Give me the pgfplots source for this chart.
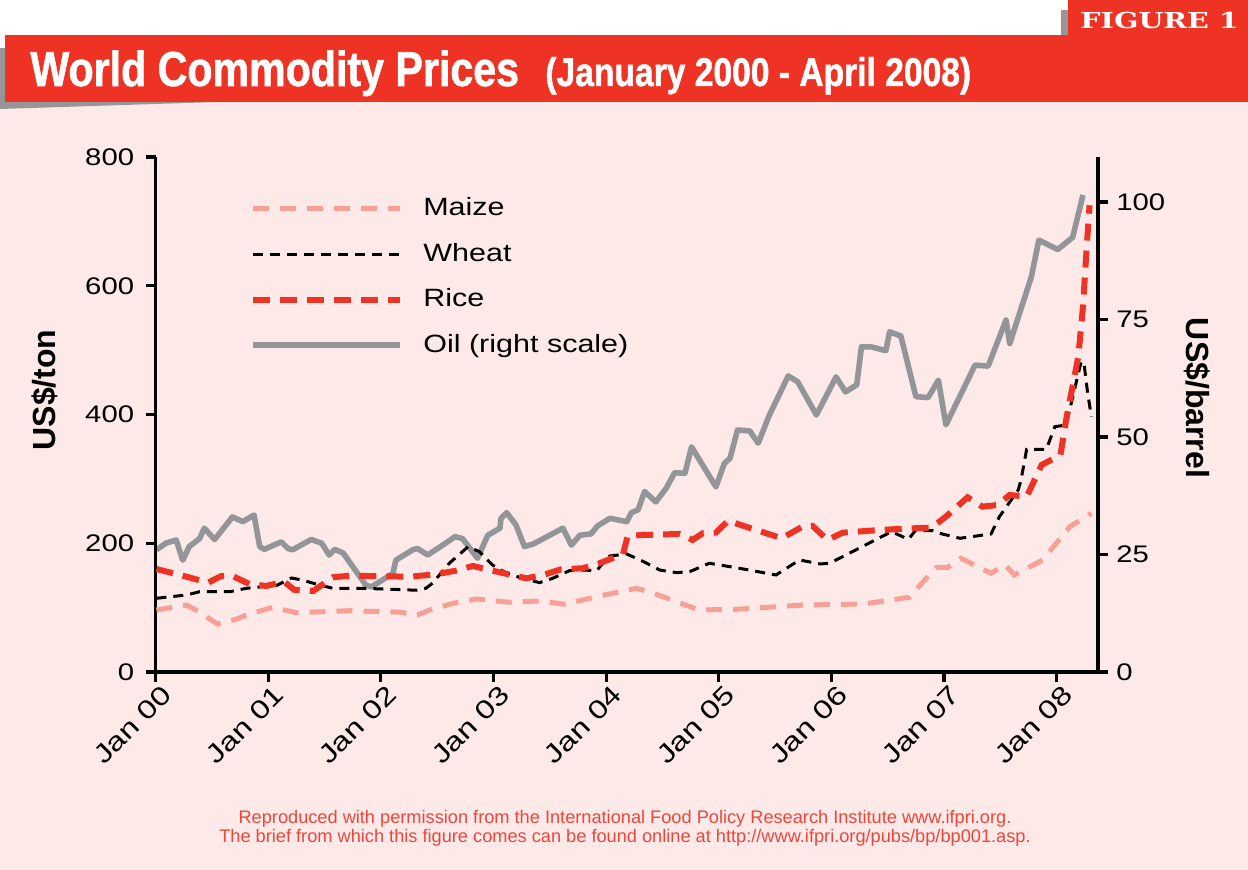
\documentclass[border=0pt]{standalone}
\usepackage{fontspec}
\usepackage{graphicx}
\setmainfont{Liberation Sans}
\newfontfamily\widefont[FakeStretch=1.22]{Liberation Sans}
\newfontfamily\titlefont[FakeStretch=0.84,FakeBold=1.2]{Liberation Sans}
\newfontfamily\figfont[FakeStretch=1.3]{DejaVu Serif}
\usepackage{pgfplots}
\pgfplotsset{compat=1.18}
\newcommand{\xl}[1]{\scalebox{1.25}[1]{#1}}
\definecolor{bannerred}{RGB}{238,50,36}
\definecolor{bgpink}{RGB}{253,234,232}
\definecolor{oilgray}{RGB}{147,149,152}
\definecolor{maizepink}{RGB}{246,160,152}
\definecolor{ricered}{RGB}{238,50,36}
\definecolor{footred}{RGB}{236,70,60}
\definecolor{shadowgray}{RGB}{150,150,152}
\begin{document}
\begin{tikzpicture}[x=0.5pt,y=0.5pt]
\useasboundingbox (0,0) rectangle (1248,870);
\fill[white] (0,0) rectangle (1248,870);
\fill[bgpink] (0,0) rectangle (1248,768);
\fill[shadowgray] (0,770) -- (280,770) -- (0,761) -- cycle;
\fill[shadowgray] (0,768) rectangle (6,822);
\fill[bannerred] (5,768) rectangle (1248,835);
\fill[shadowgray] (1061,835) rectangle (1069,860);
\fill[bannerred] (1068,835) rectangle (1248,870);
\node[anchor=base west, white, inner sep=0pt] at (30,784) {\titlefont\bfseries\fontsize{24.5}{28}\selectfont World Commodity Prices};
\node[anchor=base west, white, inner sep=0pt] at (545,784) {\titlefont\bfseries\fontsize{20}{24}\selectfont (January 2000 - April 2008)};
\node[anchor=base west, white, inner sep=0pt] at (1080,841) {\figfont\bfseries\fontsize{11}{13}\selectfont FIGURE 1};

% right axis: oil
\begin{axis}[at={(77.75pt,99pt)}, anchor=south west, scale only axis,
  width=471.25pt, height=257.5pt,
  xmin=0, xmax=100.4, ymin=0, ymax=109.6,
  axis x line=none, axis y line=right,
  axis line style={-, line width=1.6pt, black},
  ytick={0,25,50,75,100},
  tick align=outside, major tick length=5pt,
  tick style={black, line width=1.6pt},
  yticklabel style={font=\widefont\fontsize{12}{14}\selectfont, /pgf/number format/assume math mode=true, inner sep=0pt, anchor=west, xshift=4pt},
  clip=false]
\addplot[oilgray, line width=2.8pt, line join=round] coordinates {
(0.1,26.0) (1.1,27.4) (2.2,28.1) (2.9,23.8) (3.6,26.7) (4.7,28.4) (5.2,30.6) (6.3,28.2)
(8.2,33.0) (9.3,32.0) (10.5,33.4) (11.1,26.7) (11.6,26.1) (13.4,27.7) (14.1,26.3) (14.6,26.0)
(16.6,28.2) (17.7,27.4) (18.5,24.9) (19.1,26.1) (20.0,25.3) (22.4,18.5) (23.0,18.1) (25.3,21.0)
(25.6,23.8) (27.4,26.0) (27.9,26.3) (29.0,24.9) (30.6,27.0) (31.9,28.8) (32.7,28.4) (34.3,24.2)
(35.4,29.1) (36.7,30.6) (36.8,32.7) (37.4,33.9) (38.4,31.3) (39.3,26.7) (40.2,27.2) (43.4,30.6)
(44.3,27.0) (45.2,29.1) (46.4,29.4) (47.1,31.1) (48.4,32.7) (50.2,32.0) (50.7,33.9) (51.4,34.5)
(52.1,38.4) (53.3,36.2) (54.4,39.1) (55.3,42.4) (56.4,42.3) (57.1,47.9) (59.7,39.4) (60.6,44.4)
(61.2,45.5) (62.0,51.5) (63.3,51.3) (64.2,48.7) (65.4,54.7) (67.4,63.0) (68.4,61.8) (70.4,54.7)
(72.5,62.8) (73.5,59.6) (74.7,61.1) (75.2,69.2) (76.2,69.2) (77.8,68.4) (78.2,72.4) (79.4,71.5)
(81.0,58.6) (82.3,58.4) (83.4,62.1) (84.2,52.6) (87.3,65.3) (88.7,65.1) (90.6,74.9) (91.0,69.9)
(93.3,84.1) (94.1,91.9) (96.1,89.9) (97.7,92.5) (98.8,101.5)};
\end{axis}

% left axis: food
\begin{axis}[at={(77.75pt,99pt)}, anchor=south west, scale only axis,
  width=471.25pt, height=257.5pt,
  xmin=0, xmax=100.4, ymin=0, ymax=800,
  axis x line=bottom, axis y line=left,
  axis line style={-, line width=1.6pt, black},
  xtick={0,12,24,36,48,60,72,84,96},
  xticklabels={\xl{Jan 00},\xl{Jan 01},\xl{Jan 02},\xl{Jan 03},\xl{Jan 04},\xl{Jan 05},\xl{Jan 06},\xl{Jan 07},\xl{Jan 08}},
  ytick={0,200,400,600,800},
  tick align=outside, major tick length=5pt,
  tick style={black, line width=1.6pt},
  yticklabel style={font=\widefont\fontsize{12}{14}\selectfont, /pgf/number format/assume math mode=true, inner sep=0pt, anchor=east, xshift=-5.5pt},
  xticklabel style={font=\fontsize{13}{15}\selectfont, rotate=45, anchor=east, inner sep=0pt, xshift=1.2pt, yshift=-7pt},
  legend style={at={(0.1002,0.926)}, anchor=north west, draw=none, fill=none, inner sep=0pt,
    font=\widefont\fontsize{12.5}{15}\selectfont, row sep=9.75pt,
    nodes={inner sep=0pt, text height=10pt, text depth=3pt},
    /tikz/every odd column/.append style={column sep=10pt}},
  legend cell align=left,
  legend image code/.code={\draw[#1] (0pt,0pt) -- (73.5pt,0pt);},
  clip=false]
\addplot[maizepink, line width=2.5pt, dash pattern=on 8pt off 5.5pt] coordinates {
(0.1,96.3) (3.3,104) (4.3,96.3) (6.6,74.6) (8.6,81.9) (9.7,88.5) (12.5,100.5) (15.0,92.1)
(20.7,95.2) (26.0,93) (27.9,88.5) (29.2,96.3) (31.7,106.7) (34.2,113.4) (37.7,108.3) (40.9,110.3)
(43.6,105.2) (47.0,117) (51.2,130) (52.6,124.7) (55.5,109.2) (57.9,96.3) (61.9,97.4) (69.0,104)
(75.4,105.6) (80.3,116) (82.5,152) (83.2,162.6) (84.4,162.6) (85.8,176.6) (89.0,153.3) (90.5,166.2)
(91.5,150.7) (94.5,174) (97.4,225.7) (99.7,246.5)};
\addlegendentry{Maize}
\addplot[black, line width=1.5pt, dash pattern=on 5pt off 3.5pt] coordinates {
(0.1,114.5) (3.3,119.6) (4.7,124.7) (7.9,124.7) (9.7,130) (12.9,134.5) (14.5,146) (15.7,142.5)
(17.5,135) (18.9,130) (22.1,130) (26.0,128) (27.8,127) (28.8,130) (29.5,137.8) (31.3,168.9)
(33.3,194.7) (34.5,186.9) (35.9,166.2) (37.4,153.3) (39.1,145.5) (40.9,138.8) (42.3,145.5) (44.1,157.4)
(45.5,158.4) (47.0,157.4) (47.5,166.2) (48.4,180.2) (50.2,183.3) (52.0,171.4) (53.7,158.4) (55.5,154.3)
(56.9,155.8) (59.0,168.9) (62.2,161.1) (66.1,150.7) (68.6,174) (70.8,167.8) (71.8,168.9) (73.9,184.4)
(78.4,218) (80.2,206.1) (81.0,220.6) (82.8,219.5) (83.5,215.5) (85.7,207.7) (89.0,214.4) (89.9,241.3)
(91.9,282.7) (92.2,298.3) (92.8,346) (94.9,346) (95.8,381) (97.0,383.7) (98.6,482) (98.9,480.5)
(99.3,433) (99.7,396.6)};
\addlegendentry{Wheat}
\addplot[ricered, line width=3pt, dash pattern=on 8.5pt off 5pt] coordinates {
(0.1,160) (3.3,148) (5.6,138.8) (7.0,149.1) (8.2,149.1) (10.0,136.7) (11.8,133.6) (13.7,140.3)
(14.8,127.4) (16.8,125.8) (18.9,147.1) (20.7,149.6) (27.1,148) (29.9,151.8) (32.0,157.4) (33.8,164.7)
(35.6,158.4) (39.5,145.5) (41.3,150.7) (43.2,159.5) (45.5,161.1) (47.3,168.9) (49.8,183.3) (50.3,211.3)
(51.9,212.8) (55.8,214.4) (56.2,212.8) (57.2,205) (58.3,215.5) (59.7,216.4) (61.0,235) (62.9,225.7)
(66.7,207.7) (68.8,224.8) (70.0,226.8) (71.6,205) (73.2,216.4) (76.1,219.5) (79.6,222.6) (82.5,224.2)
(83.5,233.5) (84.2,241.3) (86.5,271.3) (88.1,256.8) (89.7,259.4) (91.0,275) (92.8,272.3) (94.4,321.6)
(96.4,337) (97.0,391.5) (98.3,489.8) (98.8,567.5) (99.2,660.7) (99.5,725)};
\addlegendentry{Rice}
\addlegendimage{oilgray, line width=2.8pt}
\addlegendentry{Oil (right scale)}
\end{axis}

\node[rotate=90, inner sep=0pt] at (45,480) {\bfseries\fontsize{16}{18}\selectfont US\$/ton};
\node[rotate=-90, inner sep=0pt] at (1197,472) {\bfseries\fontsize{16}{18}\selectfont US\$/barrel};
\node[anchor=base, footred, inner sep=0pt] at (625,46) {\fontsize{9.1}{10.5}\selectfont Reproduced with permission from the International Food Policy Research Institute www.ifpri.org.};
\node[anchor=base, footred, inner sep=0pt] at (625,27) {\fontsize{9.1}{10.5}\selectfont The brief from which this figure comes can be found online at http://www.ifpri.org/pubs/bp/bp001.asp.};
\end{tikzpicture}
\end{document}
